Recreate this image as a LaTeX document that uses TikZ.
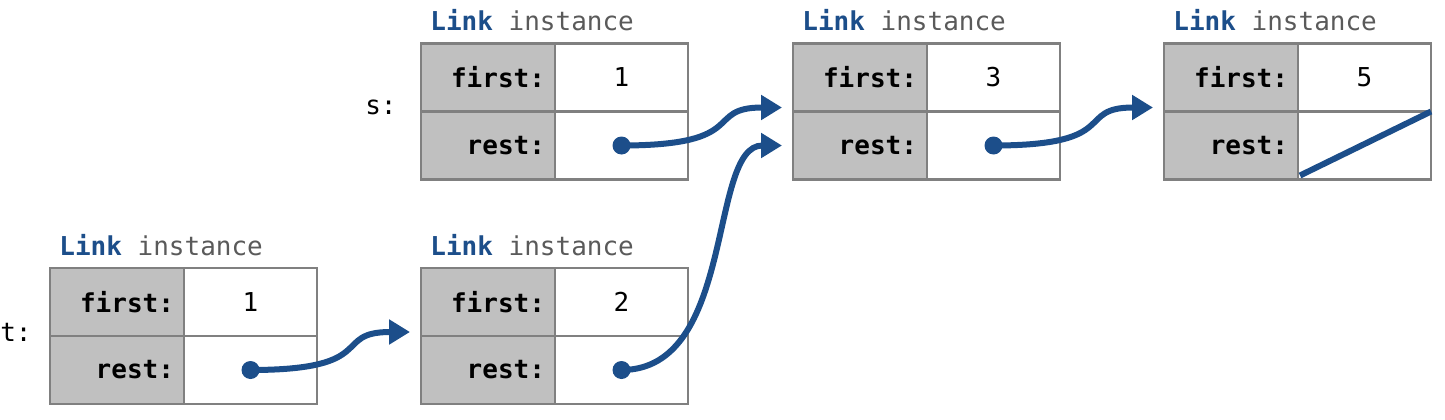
\documentclass[tikz,border=0pt]{standalone}
\usepackage{fontspec}
\setmonofont{DejaVu Sans Mono}
\usetikzlibrary{positioning,arrows.meta}
\definecolor{linkblue}{RGB}{28,78,138}
\definecolor{cellgray}{RGB}{192,192,192}
\definecolor{cellborder}{RGB}{128,128,128}
\definecolor{titlegray}{RGB}{90,90,90}

\begin{document}
\begin{tikzpicture}[x=0.5pt,y=0.5pt,
    every node/.style={font=\ttfamily\fontsize{13}{15}\selectfont},
    fieldname/.style={draw=cellborder,fill=cellgray,line width=1.2pt,outer sep=0pt,
                      minimum height=34pt,text width=57pt,inner xsep=5pt,align=right,
                      font=\ttfamily\bfseries\fontsize{13}{15}\selectfont},
    fieldval/.style={draw=cellborder,fill=white,line width=1.2pt,outer sep=0pt,
                     minimum height=34pt,minimum width=66.5pt},
    linktitle/.style={inner sep=0pt,text=titlegray},
    varname/.style={inner sep=0pt},
    ptr/.style={draw=linkblue,line width=3pt,shorten >=5.5pt,
                -{Triangle[length=10.5pt,width=12pt]}}]

  \useasboundingbox (0,0) rectangle (1445,419);

  % s: 1 -> 3 -> 5
  \node[fieldname] (s1f) at (488,341.5) {first:};
  \node[fieldval] (s1fv) [right=0pt of s1f] {1};
  \node[fieldname] (s1r) [below=0pt of s1f] {rest:};
  \node[fieldval] (s1rv) [right=0pt of s1r] {};
  \node[linktitle] (s1t) [above=6pt of s1f.north west,anchor=south west,xshift=4.5pt]
       {\textcolor{linkblue}{\bfseries Link} instance};

  \node[fieldname] (m3f) at (860,341.5) {first:};
  \node[fieldval] (m3fv) [right=0pt of m3f] {3};
  \node[fieldname] (m3r) [below=0pt of m3f] {rest:};
  \node[fieldval] (m3rv) [right=0pt of m3r] {};
  \node[linktitle] (m3t) [above=6pt of m3f.north west,anchor=south west,xshift=4.5pt]
       {\textcolor{linkblue}{\bfseries Link} instance};

  \node[fieldname] (m5f) at (1231,341.5) {first:};
  \node[fieldval] (m5fv) [right=0pt of m5f] {5};
  \node[fieldname] (m5r) [below=0pt of m5f] {rest:};
  \node[fieldval] (m5rv) [right=0pt of m5r] {};
  \node[linktitle] (m5t) [above=6pt of m5f.north west,anchor=south west,xshift=4.5pt]
       {\textcolor{linkblue}{\bfseries Link} instance};

  % t: 1 -> 2 -> (shared 3)
  \node[fieldname] (t1f) at (117,117) {first:};
  \node[fieldval] (t1fv) [right=0pt of t1f] {1};
  \node[fieldname] (t1r) [below=0pt of t1f] {rest:};
  \node[fieldval] (t1rv) [right=0pt of t1r] {};
  \node[linktitle] (t1t) [above=6pt of t1f.north west,anchor=south west,xshift=4.5pt]
       {\textcolor{linkblue}{\bfseries Link} instance};

  \node[fieldname] (t2f) at (488,117) {first:};
  \node[fieldval] (t2fv) [right=0pt of t2f] {2};
  \node[fieldname] (t2r) [below=0pt of t2f] {rest:};
  \node[fieldval] (t2rv) [right=0pt of t2r] {};
  \node[linktitle] (t2t) [above=6pt of t2f.north west,anchor=south west,xshift=4.5pt]
       {\textcolor{linkblue}{\bfseries Link} instance};

  \node[varname] (svar) [left=12pt of s1f.south west,yshift=2pt] {s:};
  \node[varname] (tvar) [left=9pt of t1f.south west,yshift=2pt] {t:};

  % pointers
  \fill[linkblue] (s1rv.center) circle (4.5pt);
  \fill[linkblue] (m3rv.center) circle (4.5pt);
  \fill[linkblue] (t1rv.center) circle (4.5pt);
  \fill[linkblue] (t2rv.center) circle (4.5pt);
  \draw[ptr] (s1rv.center) .. controls +(130,0) and +(-90,0) .. ([yshift=2pt]m3r.north west);
  \draw[ptr] (m3rv.center) .. controls +(130,0) and +(-90,0) .. ([yshift=2pt]m5r.north west);
  \draw[ptr] (t1rv.center) .. controls +(130,0) and +(-90,0) .. ([yshift=2pt]t2r.north west);
  \draw[ptr] (t2rv.center) .. controls +(115,0) and +(-85,0) .. (m3r.west);
  \draw[linkblue,line width=3pt] ([xshift=1pt,yshift=2pt]m5rv.south west) -- (m5rv.north east);
\end{tikzpicture}
\end{document}
